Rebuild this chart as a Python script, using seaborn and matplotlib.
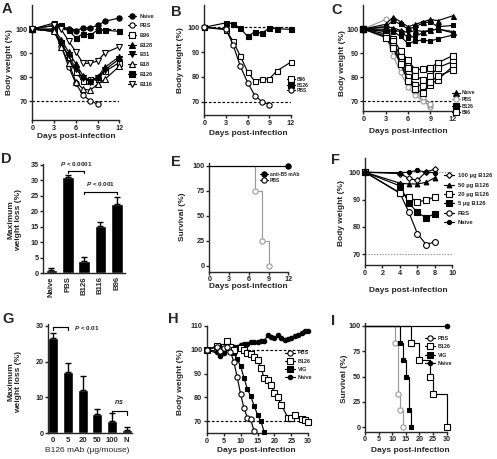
import matplotlib
matplotlib.use("Agg")
import matplotlib.pyplot as plt
from matplotlib.lines import Line2D
import seaborn as sns

# ---------------- data ----------------
# A: mean body weight (%) per treatment
days_a = [0, 3, 4, 5, 6, 7, 8, 9, 10, 12]
days_a_pbs = [0, 3, 4, 5, 6, 7, 8, 9]
bw_a_naive = [100, 101.5, 101.3, 100, 99, 100.6, 100.5, 101.5, 103.2, 104.6]
bw_a_pbs = [100, 99.5, 93, 84.3, 77.4, 72.4, 70.1, 68.7]
bw_a_b96 = [100, 99, 94.5, 88.2, 82, 78.2, 79.2, 79.2, 82.3, 86]
bw_a_b128 = [100, 100, 95.5, 90.5, 85.5, 80.5, 78.5, 80, 84, 88.5]
bw_a_b31 = [100, 99, 94, 89, 83.5, 79.5, 78, 79.5, 83, 87.5]
bw_a_b18 = [100, 99, 92.5, 86, 78, 75, 74.5, 77, 79, 84.5]
bw_a_b126 = [100, 102.5, 101.5, 99.5, 96.3, 98, 97.5, 99.5, 99.5, 99]
bw_a_b116 = [100, 101.5, 99.8, 95, 90.5, 85.7, 85.7, 86.7, 90, 92.6]

# B: subset of A
bw_b_b96 = [100, 99, 94.3, 88.3, 82, 78.2, 79.2, 79.2, 82.3, 86]
bw_b_b126 = [100, 101.8, 101.5, 99.6, 96.3, 98.2, 97.6, 99.8, 99.4, 99.2]
bw_b_pbs = [100, 99.3, 92.8, 84.2, 77.7, 72.4, 70, 68.8]

# C: individual mice
c_naive = [
    [100, 102, 105, 103, 101, 102, 103, 104, 103.5, 105.5],
    [100, 101, 100.5, 99.5, 98.5, 99.5, 99, 99.5, 100, 99],
]
c_pbs = [
    [100, 104, 95, 86.5, 79.5, 74, 70.5, 67.5],
    [100, 97.5, 89, 82, 76, 72.5, 70, 68.5],
    [100, 99, 93, 86, 80, 74.5, 72, 69],
]
c_b126 = [
    [100, 101, 103.5, 102, 100, 101, 102.5, 103, 101, 101.5],
    [100, 99.5, 99, 97, 94, 95, 95.5, 95, 96, 97.5],
    [100, 100, 99.5, 99, 96.5, 97, 98.5, 99.5, 100, 98.5],
]
c_b96 = [
    [100, 99, 96, 91, 87, 83, 83.5, 84, 86, 89],
    [100, 98, 95, 88.5, 84, 80.5, 79, 80.5, 84, 86.5],
    [100, 97, 93, 86.5, 80, 77, 76.5, 77, 79, 84.5],
    [100, 96.5, 92, 85.5, 78.5, 75, 73.5, 78, 80.5, 83],
]

# D: maximum weight loss (%)
groups_d = ["Naive", "PBS", "B126", "B116", "B96"]
loss_d = [1.0, 31.0, 4.0, 15.2, 22.5]
sem_d = [0.6, 0.6, 1.3, 1.3, 2.0]

# E: survival
days_e_mab = [0, 12]
surv_e_mab = [100, 100]
days_e_pbs = [0, 7, 8, 9]
surv_e_pbs = [100, 75, 25, 0]

# F: dose response
days_f = [0, 4, 5, 6, 7, 8]
bw_f_100 = [100, 99.5, 97.8, 97, 100.2, 101]
bw_f_50 = [100, 96, 95.7, 95.7, 96.3, 98]
bw_f_20 = [100, 92.5, 91, 89.2, 89.7, 91]
bw_f_5 = [100, 95, 88.8, 85.3, 83.3, 84.8]
bw_f_pbs = [100, 92.3, 85.5, 77.5, 73.5, 74.5]
bw_f_naive = [100, 99.8, 100, 100.7, 100, 99.8]

# G: max weight loss vs dose
doses_g = ["0", "5", "20", "50", "100", "N"]
loss_g = [26.7, 17.2, 12.0, 5.4, 3.4, 1.0]
sem_g = [1.2, 2.5, 4.0, 1.4, 2.2, 0.8]

# H: long course
days_h_pbs = [0, 3, 4, 5, 6, 7, 8, 9, 10, 11, 12, 13, 14]
bw_h_pbs = [100, 101, 99.5, 100.5, 101, 99, 95, 88.5, 81.5, 75.5, 71.5, 70.8, 65.8]
days_h_b126 = [0, 3, 4, 5, 6, 7, 8, 10, 11, 12, 13, 14, 15, 16, 17, 18, 19, 20,
               21, 22, 24, 25, 26, 28, 29, 30]
bw_h_b126 = [100, 101.5, 100, 101, 103.5, 101, 100, 100.5, 100, 98.5, 98, 97, 95.5,
             92.5, 88, 87.2, 85, 82, 80, 77, 71.5, 71.5, 72.5, 71, 70.5, 69.8]
days_h_vig = [0, 4, 5, 6, 7, 8, 9, 10, 11, 12, 13, 14, 15, 16, 17]
bw_h_vig = [100, 98, 99.5, 102, 100, 98.5, 96, 93, 88.3, 83.5, 80.5, 76.5, 72.8, 70, 65.5]
days_h_naive = [0, 3, 4, 5, 6, 7, 8, 9, 10, 11, 12, 13, 14, 15, 16, 17, 18, 19, 20,
                21, 22, 23, 24, 25, 26, 27, 28, 29, 30]
bw_h_naive = [100, 99.2, 97.5, 98.4, 101, 101.5, 101, 101, 102, 102.5, 102.2, 103.3,
              103, 103.2, 103.8, 103.5, 106, 105.3, 105, 106, 105, 104.2, 104.5, 105,
              105.5, 106.2, 107, 107.8, 107.8]

# I: survival
days_i_pbs = [0, 11, 12, 13, 14]
surv_i_pbs = [100, 83.3, 33.3, 16.7, 0]
days_i_b126 = [0, 17, 20, 24, 25, 30]
surv_i_b126 = [100, 83.3, 66.7, 50, 33.3, 0]
days_i_vig = [0, 13, 14, 15, 16, 17]
surv_i_vig = [100, 83.3, 66.7, 50, 16.7, 0]
days_i_naive = [0, 30]
surv_i_naive = [100, 100]

# ---------------- style ----------------
sns.set_style("ticks")
plt.rcParams["font.family"] = ["Liberation Sans", "DejaVu Sans"]
plt.rcParams["font.weight"] = "bold"
plt.rcParams["mathtext.fontset"] = "custom"
plt.rcParams["mathtext.it"] = "Liberation Sans:italic:bold"
plt.rcParams["mathtext.rm"] = "Liberation Sans:bold"

W, H = 497, 459
GRAY = "#9a9a9a"
LW = 0.85
fig = plt.figure(figsize=(W / 100, H / 100), dpi=100)


def make_ax(l, t, r, b):
    return fig.add_axes([l / W, 1 - b / H, (r - l) / W, (b - t) / H])


def frame(ax, xlim, ylim, xticks, yticks):
    ax.set_xlim(xlim)
    ax.set_ylim(ylim)
    ax.set_xticks(xticks)
    ax.set_yticks(yticks)
    sns.despine(ax=ax)
    for s in ("left", "bottom"):
        ax.spines[s].set_linewidth(1.0)
    ax.tick_params(length=2, width=1.0, pad=1.3, labelsize=5.2)
    for lab in ax.get_xticklabels() + ax.get_yticklabels():
        lab.set_fontweight("bold")


def labels(ax, xlabel, xl, ylabel, yl, size=6):
    if xlabel:
        ax.set_xlabel(xlabel, fontsize=size, fontweight="bold")
        ax.xaxis.label.set(va="center", ha="center")
        ax.xaxis.set_label_coords(xl[0] / W, 1 - xl[1] / H, transform=fig.transFigure)
    ax.set_ylabel(ylabel, fontsize=size, fontweight="bold", linespacing=1.1)
    ax.yaxis.label.set(va="center", ha="center")
    ax.yaxis.set_label_coords(yl[0] / W, 1 - yl[1] / H, transform=fig.transFigure)


def line(ax, x, y, marker, filled=True, color="black", ms=3.8, step=False,
         skip_first=False):
    kw = dict(marker=marker, markersize=ms, markeredgewidth=0.8,
              markeredgecolor=color, markerfacecolor=color if filled else "white",
              color=color, linewidth=LW, clip_on=False, zorder=3)
    if step:
        kw["drawstyle"] = "steps-post"
    if skip_first:
        kw["markevery"] = slice(1, None)
    sns.lineplot(x=x, y=y, ax=ax, estimator=None, sort=False, legend=False, **kw)


def handle(marker, filled=True, color="black", ms=3.8):
    return Line2D([], [], marker=marker, markersize=ms, markeredgewidth=0.8,
                  markeredgecolor=color, markerfacecolor=color if filled else "white",
                  color=color, linewidth=LW)


def legend(ax, entries, x, y, fs, hl=1.5, tp=0.5, sp=0.4):
    hs = [handle(*e[1:]) for e in entries]
    ax.legend(hs, [e[0] for e in entries], loc="upper left",
              bbox_to_anchor=(x / W, 1 - y / H), bbox_transform=fig.transFigure,
              frameon=False, borderpad=0, borderaxespad=0, handlelength=hl,
              handletextpad=tp, labelspacing=sp, prop={"size": fs, "weight": "bold"})


def letter(ch, x, y):
    fig.text(x / W, 1 - y / H, ch, fontsize=10.5, fontweight="bold", ha="left", va="top")


def hline(ax, y, color="black", ls=(0, (2.2, 1.6))):
    ax.axhline(y, color=color, linewidth=0.85, linestyle=ls, zorder=1)


def bracket(ax, x1, x2, y, drop, lw=0.85):
    ax.plot([x1, x1, x2, x2], [y - drop, y, y, y - drop], color="black",
            linewidth=lw, clip_on=False)


# ---------------- A ----------------
ax = make_ax(32.3, 5, 119.3, 120.2)
hline(ax, 100)
hline(ax, 70)
line(ax, days_a, bw_a_naive, "o")
line(ax, days_a_pbs, bw_a_pbs, "o", False)
line(ax, days_a, bw_a_b96, "s", False, ms=3.6)
line(ax, days_a, bw_a_b128, "^")
line(ax, days_a, bw_a_b31, "v")
line(ax, days_a, bw_a_b18, "^", False)
line(ax, days_a, bw_a_b126, "s", ms=3.6)
line(ax, days_a, bw_a_b116, "v", False)
frame(ax, (0, 12), (62, 110), [0, 3, 6, 9, 12], [70, 80, 90, 100])
labels(ax, "Days post-infection", (76, 136), "Body weight (%)", (10, 62.5))
legend(ax, [("Naive", "o"), ("PBS", "o", False), ("B96", "s", False),
            ("B128", "^"), ("B31", "v"), ("B18", "^", False),
            ("B126", "s"), ("B116", "v", False)],
       128, 13.5, 4.0, hl=1.45, tp=0.7, sp=0.85)
letter("A", 1.5, 2)

# ---------------- B ----------------
ax = make_ax(204.3, 5, 291, 115.3)
hline(ax, 100)
hline(ax, 70)
line(ax, days_a, bw_b_b96, "s", False, ms=3.6)
line(ax, days_a, bw_b_b126, "s", ms=3.6)
line(ax, days_a_pbs, bw_b_pbs, "o", False)
frame(ax, (0, 12), (64.5, 109), [0, 3, 6, 9, 12], [70, 80, 90, 100])
labels(ax, "Days post-infection", (248, 134), "Body weight (%)", (181, 60))
legend(ax, [("B96", "s", False), ("B126", "s"), ("PBS", "o", False)],
       286.5, 77, 3.6, hl=1.7, tp=0.4, sp=0.12)
letter("B", 171, 5)

# ---------------- C ----------------
ax = make_ax(363.3, 5, 452.7, 111)
hline(ax, 70)
for y in c_pbs:
    line(ax, days_a[:len(y)], y, "o", False, color=GRAY, ms=3.6)
for y in c_b96:
    line(ax, days_a, y, "s", False, ms=3.8)
for y in c_b126:
    line(ax, days_a, y, "s", ms=3.4)
for y in c_naive:
    line(ax, days_a, y, "^", ms=3.6)
frame(ax, (0, 12), (66, 110), [0, 3, 6, 9, 12], [70, 80, 90, 100])
labels(ax, "Days post-infection", (408, 131.7), "Body weight (%)", (342, 63))
legend(ax, [("Naive", "^"), ("PBS", "o", False, GRAY), ("B126", "s"),
            ("B96", "s", False)],
       452, 90.5, 3.6, hl=1.6, tp=0.4, sp=0.3)
letter("C", 331.5, 3)

# ---------------- D ----------------
ax = make_ax(43.3, 164, 125, 273.3)
sns.barplot(x=groups_d, y=loss_d, ax=ax, color="black", width=0.72,
            errorbar=None, order=groups_d, saturation=1)
ax.errorbar(range(len(groups_d)), loss_d, yerr=[[0] * len(sem_d), sem_d], fmt="none",
            ecolor="black", elinewidth=1.0, capsize=2.4, capthick=1.0)
frame(ax, (-0.5, 4.5), (0, 35.3), range(len(groups_d)), range(0, 36, 5))
ax.set_xticklabels(groups_d, rotation=90, fontweight="bold", fontsize=5.6)
ax.tick_params(axis="x", length=0, pad=2)
labels(ax, None, None, "Maximum\nweight loss (%)", (15, 220))
bracket(ax, 1, 2, 33.2, 0.9)
ax.text(1.5, 35.4, "$P$ < 0.0001", ha="center", va="center", fontsize=4.6)
bracket(ax, 2, 4, 26.4, 0.9)
ax.text(3, 28.8, "$P$ < 0.001", ha="center", va="center", fontsize=4.6)
letter("D", 1.5, 152)

# ---------------- E ----------------
ax = make_ax(209.3, 163, 288.3, 271.7)
line(ax, days_e_pbs, surv_e_pbs, "o", False, color=GRAY, step=True, skip_first=True)
line(ax, days_e_mab, surv_e_mab, "o", step=True, skip_first=True)
frame(ax, (0, 12), (-5.7, 102.7), [0, 3, 6, 9, 12], [0, 25, 50, 75, 100])
labels(ax, "Days post-infection", (248.3, 286), "Survival (%)", (182.3, 216.7))
legend(ax, [("anti-B5 mAb", "o"), ("PBS", "o", False)],
       259.5, 172, 3.6, hl=1.7, tp=0.4, sp=0.15)
letter("E", 171, 155)

# ---------------- F ----------------
ax = make_ax(365, 158.3, 452.3, 265)
hline(ax, 100, GRAY, (0, (1.2, 1.2)))
hline(ax, 70, GRAY, (0, (1.2, 1.2)))
line(ax, days_f, bw_f_pbs, "o", False, ms=4.2)
line(ax, days_f, bw_f_5, "s", ms=3.8)
line(ax, days_f, bw_f_20, "s", False, ms=4)
line(ax, days_f, bw_f_50, "^", ms=3.4)
line(ax, days_f, bw_f_100, "D", False, ms=3)
line(ax, days_f, bw_f_naive, "o", ms=3)
frame(ax, (0, 10), (66, 105.1), [0, 2, 4, 6, 8, 10], [70, 80, 90, 100])
labels(ax, "Days post-infection", (408.3, 290), "Body weight (%)", (341.7, 213.3))
legend(ax, [("100 \u00b5g B126", "D", False, "black", 3),
            ("50 \u00b5g B126", "^", True, "black", 3.4),
            ("20 \u00b5g B126", "s", False, "black", 3.8),
            ("5 \u00b5g B126", "s"), ("PBS", "o", False), ("Naive", "o", True, "black", 3)],
       443.5, 173, 4.2, hl=1.75, tp=0.7, sp=0.75)
letter("F", 331.5, 153)

# ---------------- G ----------------
ax = make_ax(48.3, 324.3, 131.7, 433.3)
sns.barplot(x=doses_g, y=loss_g, ax=ax, color="black", width=0.68,
            errorbar=None, order=doses_g, saturation=1)
ax.errorbar(range(len(doses_g)), loss_g, yerr=[[0] * len(sem_g), sem_g], fmt="none",
            ecolor="black", elinewidth=1.0, capsize=2.4, capthick=1.0)
frame(ax, (-0.34, 5.34), (0, 30.4), range(len(doses_g)), [0, 10, 20, 30])
ax.set_xticklabels(doses_g, fontweight="bold", fontsize=5.6)
ax.tick_params(axis="x", length=0, pad=2.5)
labels(ax, "B126 mAb (\u00b5g/mouse)", (86.7, 450.7), "Maximum\nweight loss (%)", (15, 381.7))
ax.xaxis.label.set_fontweight("normal")
bracket(ax, 0, 1, 29.6, 0.8)
ax.text(1.4, 29.3, "$P$ < 0.01", ha="left", va="center", fontsize=4.6)
bracket(ax, 4, 5, 6.3, 1.1)
ax.text(4.5, 8.6, "$ns$", ha="center", va="center", fontsize=5)
letter("G", 2.5, 312)

# ---------------- H ----------------
ax = make_ax(206.7, 325.7, 308.3, 433.3)
hline(ax, 100)
hline(ax, 70)
line(ax, days_h_naive, bw_h_naive, "o", ms=3.2)
line(ax, days_h_vig, bw_h_vig, "s", ms=3.5)
line(ax, days_h_b126, bw_h_b126, "s", False, ms=3.8)
line(ax, days_h_pbs, bw_h_pbs, "o", False, ms=3.8)
frame(ax, (0, 30), (65, 110), range(0, 31, 5), [70, 80, 90, 100, 110])
labels(ax, "Days post-infection", (256.7, 450.7), "Body weight (%)", (180, 381.7))
legend(ax, [("PBS", "o", False), ("B126", "s", False), ("VIG", "s"),
            ("Naive", "o", True, "black", 3.2)],
       285, 350.5, 3.9, hl=1.8, tp=0.6, sp=0.58)
letter("H", 168, 312)

# ---------------- I ----------------
ax = make_ax(365, 323.3, 446.7, 431.7)
line(ax, days_i_pbs, surv_i_pbs, "o", False, color=GRAY, step=True, skip_first=True)
line(ax, days_i_vig, surv_i_vig, "s", step=True, skip_first=True, ms=3.5)
line(ax, days_i_b126, surv_i_b126, "s", False, step=True, skip_first=True)
line(ax, days_i_naive, surv_i_naive, "o", step=True, skip_first=True, ms=3.2)
frame(ax, (0, 30), (-4.3, 102.4), range(0, 31, 5), [0, 25, 50, 75, 100])
labels(ax, "Days post-infection", (410, 450.7), "Survival (%)", (344, 378.3))
legend(ax, [("PBS", "o", False), ("B126", "s", False), ("VIG", "s"),
            ("Naive", "o", True, "black", 3.2)],
       425, 335.5, 3.9, hl=1.8, tp=0.6, sp=0.65)
letter("I", 331, 314)

fig.savefig("out.png", dpi=100)
